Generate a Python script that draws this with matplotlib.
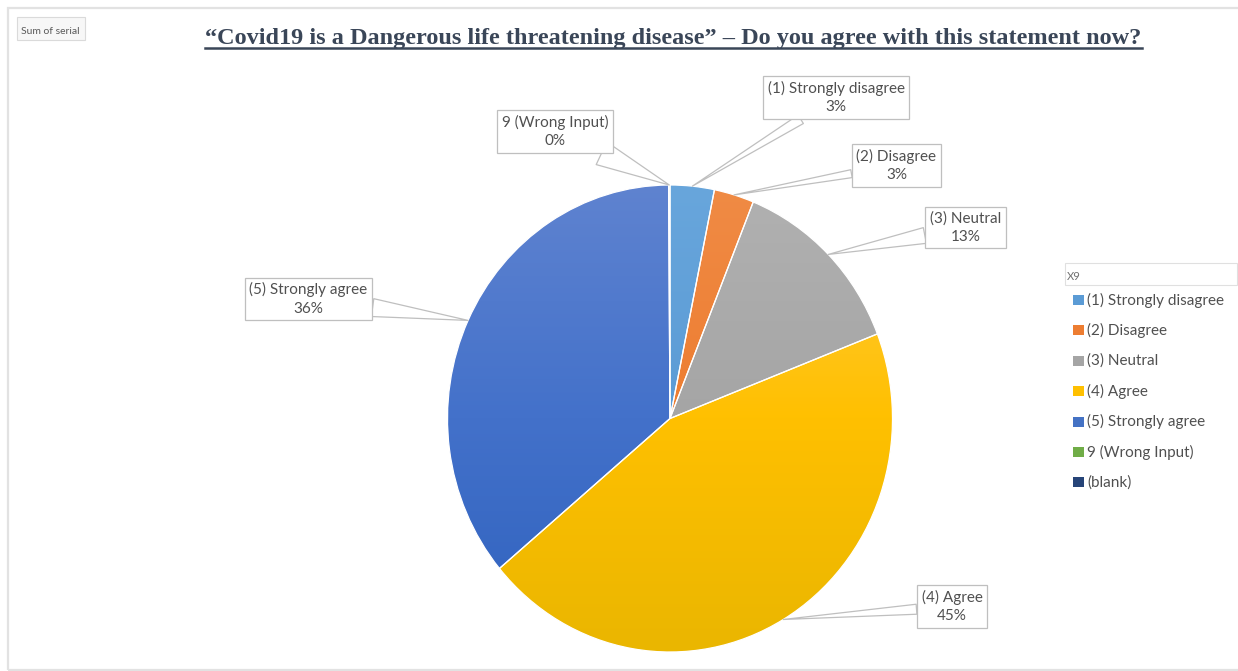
import numpy as np
import matplotlib
matplotlib.use("Agg")
import matplotlib.pyplot as plt
from matplotlib.patches import Rectangle
from matplotlib.lines import Line2D
from matplotlib.colors import to_rgb

# ---- data -------------------------------------------------------------
categories = ["(1) Strongly disagree", "(2) Disagree", "(3) Neutral", "(4) Agree",
              "(5) Strongly agree", "9 (Wrong Input)", "(blank)"]
shares = [3.2, 2.9, 13.0, 44.8, 36.0, 0.1]          # percent of answers; (blank) has none
title = ("\u201cCovid19 is a Dangerous life threatening disease\u201d \u2013 "
         "Do you agree with this statement now?")
legend_title = "X9"
field_button = "Sum of serial"

# ---- style ------------------------------------------------------------
base_colors = ["#5B9BD5", "#ED7D31", "#A5A5A5", "#FFC000", "#4472C4", "#70AD47", "#264478"]
top_colors = ["#68A6DC", "#F08B45", "#B1B1B1", "#FFCB45", "#5F83D0", "#7DB858", "#2F4F88"]
mid_colors = ["#5B9BD5", "#ED7D31", "#A5A5A5", "#FFC000", "#4371CA", "#70AD47", "#264478"]
bottom_colors = ["#4C8DD1", "#E2701F", "#979797", "#EAB600", "#2F62BE", "#62A03A", "#1E3C6E"]
text_color = "#505050"
box_edge = "#BFBFBF"
label_font = "Lato"
label_size = 11

W, H = 1238, 671
fig = plt.figure(figsize=(W / 100, H / 100), dpi=100)
fig.patch.set_facecolor("white")


def fx(x):
    return x / W


def fy(y):
    return 1 - y / H


# chart frame
fig.add_artist(Rectangle((fx(8), fy(670)), fx(1240) - fx(8), fy(8) - fy(670),
                         transform=fig.transFigure, fill=False, ec="#E2E2E2", lw=1.6))

# ---- pie --------------------------------------------------------------
ax = fig.add_axes([fx(447.5), fy(652), fx(892.5) - fx(447.5), fy(185) - fy(652)])
n = len(shares)
wedges, _ = ax.pie(shares, colors=base_colors[:n], startangle=90, counterclock=False,
                   radius=1.0, wedgeprops=dict(edgecolor="white", linewidth=0.9))

# vertical three-stop shading inside every slice
g = np.linspace(0, 1, 256)
for w, tc, mc, bc in zip(wedges, top_colors, mid_colors, bottom_colors):
    t, m, b = (np.array(to_rgb(c)) for c in (tc, mc, bc))
    img = np.empty((256, 1, 3))
    for k in range(3):
        img[:, 0, k] = np.interp(g, [0, 0.5, 1], [t[k], m[k], b[k]])
    im = ax.imshow(img, extent=(-1, 1, -1, 1), origin="upper", aspect="auto",
                   interpolation="bilinear", zorder=0.5)
    im.set_clip_path(w)
    w.set_facecolor("none")
    w.set_zorder(1)

ax.set_xlim(-1.0, 1.0)
ax.set_ylim(-1.0, 1.0)
ax.set_aspect("auto")
ax.axis("off")

# ---- callout labels ---------------------------------------------------
callout_centers = [(836, 97.5), (896.5, 165.5), (965.5, 227.5),
                   (952, 606.5), (308.5, 299), (555, 131.5)]
pointer_px = [10, 8, 16, 10, 18, 25]
px_per_pt = 100 / 72
for w, cat, s, (cx, cy), pw in zip(wedges, categories, shares, callout_centers, pointer_px):
    mid = np.deg2rad((w.theta1 + w.theta2) / 2)
    tip = (np.cos(mid), np.sin(mid))
    tw = pw / (label_size * px_per_pt)
    ax.annotate(f"{cat}\n{s:.0f}%", xy=tip, xycoords="data",
                xytext=(cx, H - cy), textcoords="figure pixels",
                ha="center", va="center", multialignment="center",
                fontfamily=label_font, fontsize=label_size, color=text_color,
                linespacing=1.4, annotation_clip=False,
                bbox=dict(boxstyle="square,pad=0.3", fc="white", ec=box_edge, lw=0.9),
                arrowprops=dict(arrowstyle=f"wedge,tail_width={tw:.3f},shrink_factor=0.5",
                                fc="white", ec=box_edge, lw=0.9, shrinkA=0, shrinkB=0),
                zorder=5)

# ---- title ------------------------------------------------------------
title_color = "#3A4658"
fs = 18
tt = fig.text(fx(673.5), fy(44), title, ha="center", va="baseline",
              fontfamily="Liberation Serif", fontweight="bold", fontsize=fs, color=title_color)
fig.canvas.draw()
bb = tt.get_window_extent()
tt.set_fontsize(fs * 933 / bb.width)
fig.canvas.draw()
bb = tt.get_window_extent()
fig.add_artist(Line2D([bb.x0 / W, bb.x1 / W], [fy(47.5), fy(47.5)],
                      transform=fig.transFigure, color=title_color, lw=1.8))

# ---- pivot field buttons ----------------------------------------------
fig.add_artist(Rectangle((fx(17), fy(40)), fx(85) - fx(17), fy(17) - fy(40),
                         transform=fig.transFigure, fc="#F7F7F7", ec="#DADADA", lw=0.8))
fig.text(fx(21), fy(31), field_button, ha="left", va="center",
         fontfamily=label_font, fontsize=7.5, color="#595959")

fig.add_artist(Rectangle((fx(1065), fy(285)), fx(1237) - fx(1065), fy(263) - fy(285),
                         transform=fig.transFigure, fc="white", ec="#E0E0E0", lw=0.8))
fig.text(fx(1067), fy(276), legend_title, ha="left", va="center",
         fontfamily=label_font, fontsize=8, color="#707070")

# ---- legend -----------------------------------------------------------
row0, pitch = 300, 30.4
for i, (cat, col) in enumerate(zip(categories, base_colors)):
    yc = row0 + i * pitch
    fig.add_artist(Rectangle((fx(1073), fy(yc + 5)), fx(1084) - fx(1073), fy(yc - 5) - fy(yc + 5),
                             transform=fig.transFigure, fc=col, ec="none"))
    fig.text(fx(1087), fy(yc), cat, ha="left", va="center",
             fontfamily=label_font, fontsize=label_size, color=text_color)

fig.savefig("out.png", dpi=100, facecolor="white")
